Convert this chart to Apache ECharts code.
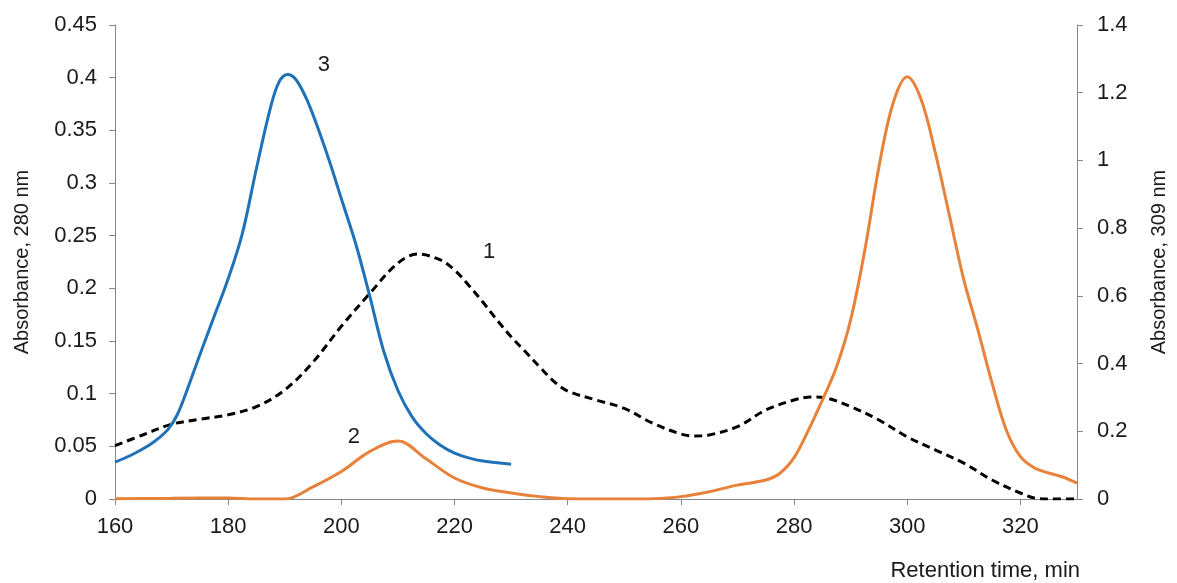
<!DOCTYPE html>
<html>
<head>
<meta charset="utf-8">
<script src="https://cdn.jsdelivr.net/npm/echarts@6/dist/echarts.min.js"></script>
<style>
html,body{margin:0;padding:0;background:#fff;}
#chart{width:1177px;height:583px;}
</style>
</head>
<body>
<div id="chart"></div>
<script>
// Curve 1 (dashed, left axis, 280 nm)
const time1 = [160,165,170,175,180,185,190,195,200,205,210,213.5,217.5,220,222.5,225,227.5,230,232.5,235,237.5,240,245,250,255,260,262.5,265,270,275,280,283,286,290,295,300,305,310,315,320,323,326,330];
const abs1  = [0.0506,0.061,0.071,0.0757,0.080,0.0877,0.1035,0.130,0.164,0.195,0.224,0.2325,0.227,0.2174,0.203,0.187,0.170,0.154,0.140,0.1256,0.112,0.1025,0.094,0.086,0.072,0.0617,0.0598,0.0608,0.0687,0.0845,0.094,0.0968,0.0955,0.0877,0.075,0.059,0.0465,0.034,0.018,0.0057,0.0005,0,0];

// Curve 2 (orange, right axis, 309 nm)
const time2 = [160,170,180,185,190,195,200,205,210,215,220,225,230,235,240,250,255,260,265,270,275,277.5,280,282.5,285,287.5,290,292.5,295,297.5,300,302.5,305,307.5,310,312.5,315,317.5,320,322.5,325,327.5,330];
const abs2  = [0.001,0.002,0.003,0,0,0.036,0.081,0.14,0.171,0.118,0.062,0.0325,0.0177,0.007,0.001,0,0.001,0.007,0.0216,0.041,0.056,0.076,0.122,0.202,0.292,0.39,0.529,0.735,0.981,1.169,1.247,1.178,1.02,0.834,0.647,0.499,0.342,0.204,0.125,0.0915,0.0768,0.065,0.047];

// Curve 3 (blue, left axis, 280 nm)
const time3 = [160,163,166,168,169.5,171,172.5,175,177.5,180,182.5,185,187.5,189,190.5,192,194,196,198,200,202.5,205,207.5,210,212.5,215,217.5,220,222.5,225,230];
const abs3  = [0.035,0.042,0.051,0.059,0.067,0.080,0.100,0.137,0.173,0.209,0.252,0.314,0.372,0.396,0.403,0.398,0.378,0.350,0.319,0.285,0.243,0.193,0.140,0.103,0.078,0.062,0.051,0.0435,0.039,0.036,0.033];

const xTicks = {min:160, max:330, interval:20};
const yLeft = {min:0, max:0.45, interval:0.05};
const yRight = {min:0, max:1.4, interval:0.2};

const pair = (xs, ys) => xs.map((x,i)=>[x, ys[i]]);

const FONT = '"Liberation Sans", Arial, sans-serif';
const axisLineStyle = {show:true, lineStyle:{color:'#868686', width:1}};
const tickStyle = {show:true, length:6, inside:false, lineStyle:{color:'#868686', width:1}};
const labelStyle = {color:'#1a1a1a', fontSize:22, fontFamily:FONT};
const curveLabel = (txt) => ({show:true, formatter:txt, color:'#1a1a1a', fontSize:22, fontFamily:FONT, position:'inside'});
const mp = (coord, txt) => ({
  symbol:'circle', symbolSize:2, silent:true,
  itemStyle:{color:'rgba(0,0,0,0)'},
  label:curveLabel(txt),
  data:[{coord:coord, value:txt}]
});

const chart = echarts.init(document.getElementById('chart'), null, {renderer:'canvas'});
chart.setOption({
  backgroundColor:'#ffffff',
  animation:false,
  grid:{left:115, right:97, top:25, bottom:84, containLabel:false},
  xAxis:{
    type:'value', min:xTicks.min, max:xTicks.max, interval:xTicks.interval,
    axisLine:axisLineStyle, axisTick:tickStyle, splitLine:{show:false},
    axisLabel:Object.assign({margin:17, showMaxLabel:false}, labelStyle)
  },
  yAxis:[
    {
      type:'value', position:'left', min:yLeft.min, max:yLeft.max, interval:yLeft.interval,
      name:'Absorbance, 280 nm', nameLocation:'middle', nameGap:83,
      nameTextStyle:{color:'#1a1a1a', fontSize:20, fontFamily:FONT},
      axisLine:axisLineStyle, axisTick:tickStyle, splitLine:{show:false},
      axisLabel:Object.assign({margin:18}, labelStyle)
    },
    {
      type:'value', position:'right', min:yRight.min, max:yRight.max, interval:yRight.interval,
      name:'Absorbance, 309 nm', nameLocation:'middle', nameGap:72,
      nameTextStyle:{color:'#1a1a1a', fontSize:20, fontFamily:FONT},
      axisLine:axisLineStyle, axisTick:tickStyle, splitLine:{show:false},
      axisLabel:Object.assign({margin:20}, labelStyle)
    }
  ],
  graphic:[{
    type:'text', right:97, bottom:1,
    style:{text:'Retention time, min', fill:'#1a1a1a', font:'22px "Liberation Sans", Arial, sans-serif', textAlign:'right'}
  }],
  series:[
    {
      name:'1', type:'line', yAxisIndex:0, data:pair(time1, abs1), smooth:0.35,
      showSymbol:false, symbol:'none',
      lineStyle:{color:'#000', width:3, type:[8,5]},
      markPoint:mp([226.1,0.2345],'1')
    },
    {
      name:'2', type:'line', yAxisIndex:1, data:pair(time2, abs2), smooth:0.35,
      showSymbol:false, symbol:'none',
      lineStyle:{color:'#E8823A', width:3},
      markPoint:mp([202.2,0.183],'2')
    },
    {
      name:'3', type:'line', yAxisIndex:0, data:pair(time3, abs3), smooth:0.35,
      showSymbol:false, symbol:'none',
      lineStyle:{color:'#1F72B8', width:3},
      markPoint:mp([196.9,0.412],'3')
    }
  ]
});
</script>
</body>
</html>
